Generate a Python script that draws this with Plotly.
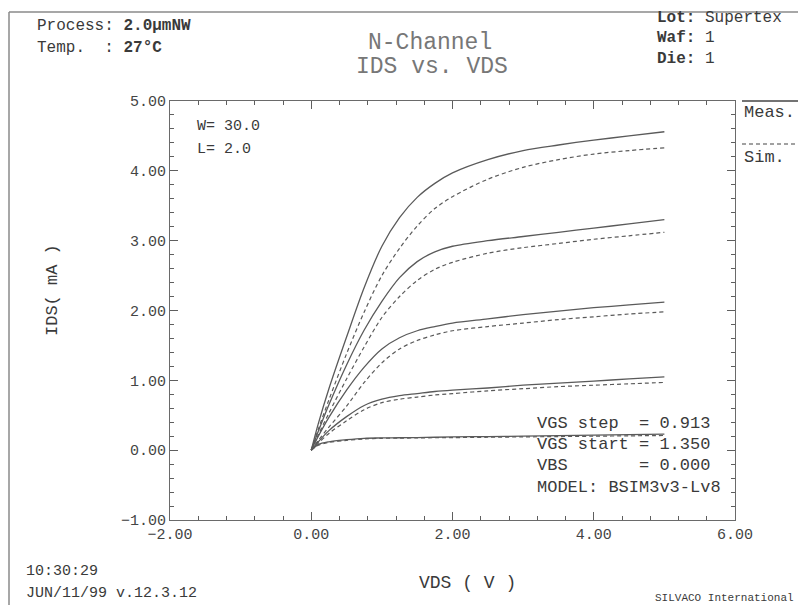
import plotly.graph_objects as go

# ---------------- data ----------------
vds = [0, 0.1, 0.25, 0.5, 0.75, 1.0, 1.25, 1.5, 1.75, 2.0, 2.5, 3.0, 3.5, 4.0, 4.5, 5.0]

meas_1 = [0, 0.38, 0.88, 1.62, 2.33, 2.92, 3.33, 3.62, 3.82, 3.97, 4.16, 4.29, 4.37, 4.44, 4.50, 4.56]
meas_2 = [0, 0.27, 0.65, 1.22, 1.72, 2.13, 2.47, 2.70, 2.84, 2.92, 3.00, 3.06, 3.12, 3.18, 3.24, 3.30]
meas_3 = [0, 0.20, 0.47, 0.86, 1.19, 1.45, 1.61, 1.71, 1.77, 1.82, 1.88, 1.94, 1.99, 2.04, 2.08, 2.12]
meas_4 = [0, 0.12, 0.28, 0.48, 0.64, 0.73, 0.78, 0.81, 0.84, 0.86, 0.89, 0.93, 0.96, 0.99, 1.02, 1.05]
meas_5 = [0, 0.08, 0.12, 0.15, 0.17, 0.175, 0.178, 0.18, 0.185, 0.19, 0.195, 0.20, 0.207, 0.215, 0.222, 0.23]

sim_1 = [0, 0.30, 0.72, 1.38, 1.98, 2.50, 2.89, 3.21, 3.46, 3.63, 3.88, 4.05, 4.16, 4.24, 4.29, 4.33]
sim_2 = [0, 0.22, 0.53, 1.02, 1.48, 1.90, 2.20, 2.43, 2.59, 2.69, 2.82, 2.90, 2.96, 3.02, 3.07, 3.12]
sim_3 = [0, 0.14, 0.33, 0.63, 0.97, 1.25, 1.45, 1.57, 1.65, 1.71, 1.77, 1.82, 1.87, 1.91, 1.95, 1.98]
sim_4 = [0, 0.10, 0.24, 0.42, 0.58, 0.68, 0.73, 0.76, 0.79, 0.81, 0.85, 0.88, 0.91, 0.93, 0.95, 0.97]
sim_5 = [0, 0.07, 0.11, 0.14, 0.16, 0.17, 0.172, 0.175, 0.178, 0.18, 0.185, 0.19, 0.195, 0.20, 0.205, 0.21]

x_range = [-2, 6]
y_range = [-1, 5]

# ---------------- figure ----------------
W, H = 798, 605
L, R, T, B = 170, 735, 101, 520
MONO = "Liberation Mono, DejaVu Sans Mono, monospace"
LINE_COL = "#5a5a5a"
AX_COL = "#5e5e5e"
NB = "\u00a0"

fig = go.Figure()
for ys in [meas_1, meas_2, meas_3, meas_4, meas_5]:
    fig.add_trace(go.Scatter(x=vds, y=ys, mode="lines", showlegend=False,
                             line=dict(color=LINE_COL, width=1.3, shape="spline", smoothing=0.9)))
for ys in [sim_1, sim_2, sim_3, sim_4, sim_5]:
    fig.add_trace(go.Scatter(x=vds, y=ys, mode="lines", showlegend=False,
                             line=dict(color=LINE_COL, width=1.2, dash="4px,3px",
                                       shape="spline", smoothing=0.9)))


def px(x):
    return (x - L) / (R - L)


def py(y):
    return (B - y) / (B - T)


def txt(x, y, s, size=16, color="#3a3a3a", xanchor="left", textangle=0):
    fig.add_annotation(x=px(x), y=py(y), xref="paper", yref="paper", text=s,
                       showarrow=False, xanchor=xanchor, yanchor="middle",
                       textangle=textangle,
                       font=dict(family=MONO, size=size, color=color))


# header
txt(35, 26, "Process:" + NB + "<b>2.0µmNW</b>", 16)
txt(35, 48, "Temp." + NB * 2 + ":" + NB + "<b>27°C</b>", 16)
txt(430, 43, "N-Channel", 23, "#777777", "center")
txt(432, 67, "IDS" + NB + "vs." + NB + "VDS", 23, "#777777", "center")
txt(655, 18, "<b>Lot:</b>" + NB + "Supertex", 16)
txt(655, 38, "<b>Waf:</b>" + NB + "1", 16)
txt(655, 59, "<b>Die:</b>" + NB + "1", 16)

# in-plot notes
txt(195, 127, "W=" + NB + "30.0", 15)
txt(195, 149, "L=" + NB + "2.0", 15)
txt(535, 423, "VGS" + NB + "step" + NB * 2 + "=" + NB + "0.913", 17)
txt(535, 444, "VGS" + NB + "start" + NB + "=" + NB + "1.350", 17)
txt(535, 465, "VBS" + NB * 7 + "=" + NB + "0.000", 17)
txt(535, 487, "MODEL:" + NB + "BSIM3v3-Lv8", 17)

# legend
txt(742, 112, "Meas.", 17)
txt(742, 157, "Sim.", 17)
fig.add_shape(type="line", xref="paper", yref="paper", x0=px(742), x1=px(798),
              y0=py(101), y1=py(101), line=dict(color="#444444", width=1.3))
fig.add_shape(type="line", xref="paper", yref="paper", x0=px(742), x1=px(798),
              y0=py(144), y1=py(144), line=dict(color="#444444", width=1.2, dash="4px,3px"))

# axis titles
txt(52, 290, "IDS(" + NB + "mA" + NB + ")", 17, "#3a3a3a", "center", -90)
txt(467, 583, "VDS" + NB + "(" + NB + "V" + NB + ")", 18, "#3a3a3a", "center")

# footer
txt(24, 571, "10:30:29", 15)
txt(24, 593, "JUN/11/99" + NB + "v.12.3.12", 15)
txt(796, 598, "SILVACO" + NB + "International", 11, "#3a3a3a", "right")

# outer frame (left and top)
fig.add_shape(type="line", xref="paper", yref="paper", x0=px(9), x1=px(9),
              y0=py(12), y1=py(605), line=dict(color="#8a8a8a", width=1.5))
fig.add_shape(type="line", xref="paper", yref="paper", x0=px(9), x1=px(798),
              y0=py(12), y1=py(12), line=dict(color="#8a8a8a", width=1.5))

axis_common = dict(showgrid=False, zeroline=False, showline=True, linecolor="#6a6a6a",
                   linewidth=1.2, mirror="allticks", ticks="inside", ticklen=8,
                   tickcolor=AX_COL, tickwidth=1.3, tickformat=".2f", tickmode="linear",
                   tickfont=dict(family=MONO, size=15, color="#444444"))

fig.update_xaxes(range=x_range, tick0=-2, dtick=2,
                 minor=dict(ticks="inside", ticklen=4, tickwidth=1.2, dtick=0.4, tick0=-2,
                            tickcolor=AX_COL),
                 **axis_common)
fig.update_yaxes(range=y_range, tick0=-1, dtick=1,
                 minor=dict(ticks="inside", ticklen=4, tickwidth=1.2, dtick=0.2, tick0=-1,
                            tickcolor=AX_COL),
                 **axis_common)

fig.update_layout(width=W, height=H, margin=dict(l=L, r=W - R, t=T, b=H - B),
                  paper_bgcolor="white", plot_bgcolor="white", showlegend=False)

fig.write_html("out.html")
